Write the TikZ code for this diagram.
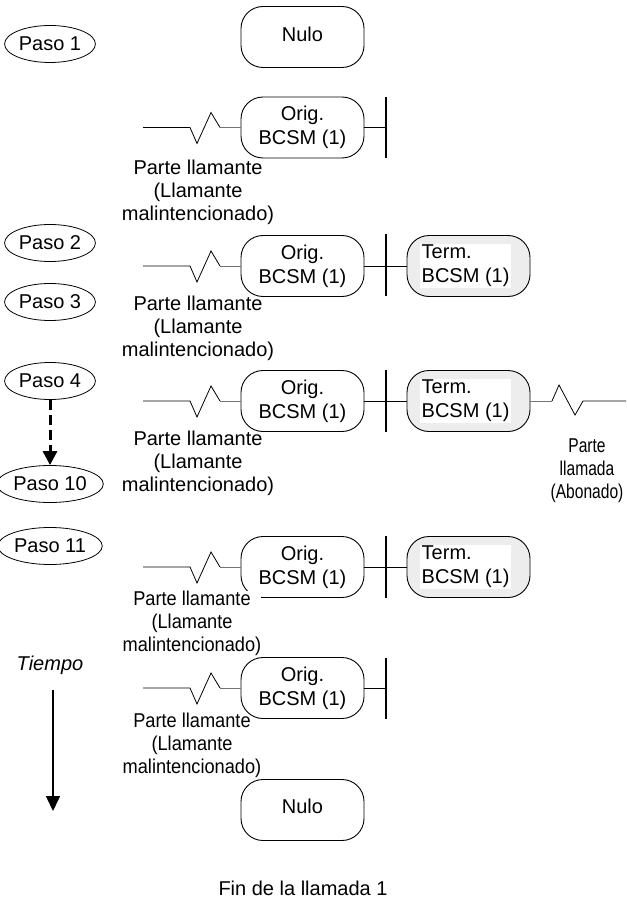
\documentclass[tikz,border=0pt]{standalone}
\usepackage{fontspec}
\setmainfont{Liberation Sans}
\usetikzlibrary{shapes.geometric,arrows.meta}
\tikzset{
  every node/.style={font=\fontsize{20}{23}\selectfont, inner sep=0pt},
  paso/.style={draw, ellipse, minimum width=88pt, minimum height=37pt, inner sep=1pt, line width=0.8pt},
  bcsm/.style={draw, rounded corners=22pt, minimum width=123pt, minimum height=61pt, line width=0.9pt, align=center, font=\fontsize{20}{24}\selectfont},
  termbox/.style={bcsm, fill=black!7},
  termtxt/.style={fill=white, align=left, inner sep=1.5pt, font=\fontsize{20}{24}\selectfont, anchor=west},
  lbl/.style={align=center},
  wire/.style={line width=0.8pt},
  graywire/.style={line width=0.8pt, draw=black!55},
  barline/.style={line width=2pt},
}
\newcommand{\condA}[1]{\scalebox{0.91}[1]{#1}}
\newcommand{\condB}[1]{\scalebox{0.78}[1]{#1}}
\begin{document}
\begin{tikzpicture}[x=1pt,y=-1pt]
\useasboundingbox (0,0) rectangle (626,909);

% Paso ellipses
\node[paso] (p1) at (50,44) {Paso 1};
\node[paso] (p2) at (50,243) {Paso 2};
\node[paso] (p3) at (50,302) {Paso 3};
\node[paso] (p4) at (50,381) {Paso 4};
\node[paso] (p10) at (50,484) {Paso 10};
\node[paso] (p11) at (50,546) {Paso 11};
\draw[line width=3pt, dash pattern=on 10pt off 5pt, -{Triangle[length=14pt,width=14pt]}] (p4.south) -- (p10.north);

% Tiempo
\node[font=\fontsize{20}{23}\selectfont\itshape] (tiempo) at (50,665) {Tiempo};
\coordinate (t1) at (53,690);
\coordinate (t2) at (53,811);
\draw[line width=1.5pt, -{Triangle[length=15pt,width=14pt]}] (t1) -- (t2);

% Nulo top
\node[bcsm] (nulo1) at (302.5,37) {};
\node (nulotxt1) at (302.5,34) {Nulo};

% Row 1
\node[bcsm] (o1) at (302.5,127.5) {Orig.\\BCSM (1)};
\coordinate (z1) at (143,127.5);
\draw[wire] (z1) -- ++(47,0) -- ++(7,16) -- ++(14,-31) -- ++(9,15) coordinate (z1e);
\draw[graywire] (z1e) -- (o1.west);
\coordinate (b1t) at (386,97);
\coordinate (b1b) at (386,158);
\coordinate (b1) at (386,127.5);
\draw[barline] (b1t) -- (b1b);
\draw[wire] (o1.east) -- (b1);
\node[lbl] (l1) at (198,192) {Parte llamante\\(Llamante\\malintencionado)};

% Row 2
\node[bcsm] (o2) at (302.5,266) {Orig.\\BCSM (1)};
\node[termbox] (t2b) at (468.5,266) {};
\node[termtxt] (t2t) at (420,266) {Term.\\BCSM (1)};
\coordinate (z2) at (143,266);
\draw[wire] (z2) -- ++(47,0) -- ++(7,16) -- ++(14,-31) -- ++(9,15) coordinate (z2e);
\draw[graywire] (z2e) -- (o2.west);
\coordinate (b2t) at (386,234);
\coordinate (b2b) at (386,296);
\draw[barline] (b2t) -- (b2b);
\draw[wire] (o2.east) -- (t2b.west);
\node[lbl] (l2) at (198,328) {Parte llamante\\(Llamante\\malintencionado)};

% Row 3
\node[bcsm] (o3) at (302.5,401) {Orig.\\BCSM (1)};
\node[termbox] (t3b) at (468.5,401) {};
\node[termtxt] (t3t) at (420,401) {Term.\\BCSM (1)};
\coordinate (z3) at (143,401);
\draw[wire] (z3) -- ++(47,0) -- ++(7,16) -- ++(14,-31) -- ++(9,15) coordinate (z3e);
\draw[graywire] (z3e) -- (o3.west);
\coordinate (b3t) at (386,370);
\coordinate (b3b) at (386,432);
\draw[barline] (b3t) -- (b3b);
\draw[wire] (o3.east) -- (t3b.west);
\coordinate (r3) at (552,401);
\draw[graywire] (t3b.east) -- (r3);
\draw[wire] (r3) -- ++(7,-16) -- ++(16,30) -- ++(8,-14) -- ++(43,0);
\node[lbl] (l3) at (198,463) {Parte llamante\\(Llamante\\malintencionado)};
\node[lbl] (l3r) at (587,471) {\condB{Parte}\\\condB{llamada}\\\condB{(Abonado)}};

% Row 4
\node[bcsm] (o4) at (302.5,567) {Orig.\\BCSM (1)};
\node[termbox] (t4b) at (468.5,567) {};
\node[termtxt] (t4t) at (420,567) {Term.\\BCSM (1)};
\coordinate (z4) at (143,567);
\draw[wire] (z4) -- ++(47,0) -- ++(7,16) -- ++(14,-31) -- ++(9,15) coordinate (z4e);
\draw[graywire] (z4e) -- (o4.west);
\coordinate (b4t) at (386,536);
\coordinate (b4b) at (386,598);
\draw[barline] (b4t) -- (b4b);
\draw[wire] (o4.east) -- (t4b.west);
\node[lbl, fill=white, inner sep=0pt] (l4) at (192,623) {\condA{Parte llamante}\\\condA{(Llamante}\\\condA{malintencionado)}};

% Row 5
\node[bcsm] (o5) at (302.5,688) {Orig.\\BCSM (1)};
\coordinate (z5) at (143,688);
\draw[wire] (z5) -- ++(47,0) -- ++(7,16) -- ++(14,-31) -- ++(9,15) coordinate (z5e);
\draw[graywire] (z5e) -- (o5.west);
\coordinate (b5t) at (386,658);
\coordinate (b5b) at (386,719);
\coordinate (b5) at (386,688);
\draw[barline] (b5t) -- (b5b);
\draw[wire] (o5.east) -- (b5);
\node[lbl] (l5) at (192,745) {\condA{Parte llamante}\\\condA{(Llamante}\\\condA{malintencionado)}};

% Nulo bottom
\node[bcsm] (nulo2) at (302.5,810) {};
\node (nulotxt2) at (302.5,806) {Nulo};

\node (fin) at (303,888) {Fin de la llamada 1};
\end{tikzpicture}
\end{document}
